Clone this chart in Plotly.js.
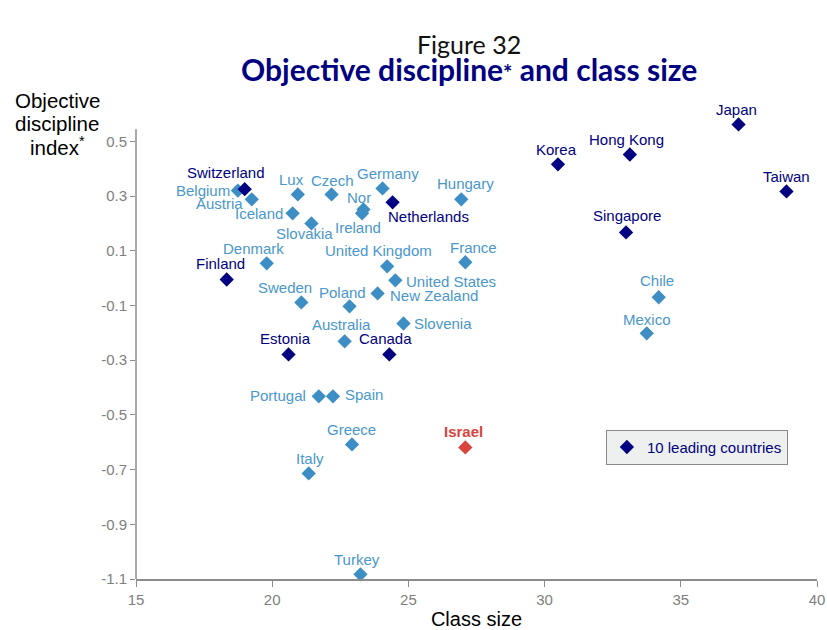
<!DOCTYPE html>
<html>
<head>
<meta charset="utf-8">
<script src="https://cdn.plot.ly/plotly-3.0.1.min.js"></script>
<style>html,body{margin:0;padding:0;background:#fff;}#chart{width:827px;height:630px;}</style>
</head>
<body>
<div id="chart"></div>
<script>
// ---- Data ----
const countries = ["Switzerland","Belgium","Austria","Lux","Czech","Germany","Netherlands","Nor","Ireland","Hungary","Iceland","Slovakia","Denmark","Finland","United Kingdom","United States","France","New Zealand","Sweden","Poland","Slovenia","Australia","Estonia","Canada","Portugal","Spain","Greece","Israel","Italy","Turkey","Korea","Hong Kong","Japan","Taiwan","Singapore","Chile","Mexico"];
const classSize = [18.99,18.74,19.25,20.94,22.18,24.05,24.42,23.35,23.30,26.94,20.75,21.44,19.80,18.33,24.22,24.52,27.09,23.87,21.07,22.84,24.82,22.66,20.60,24.30,21.71,22.23,22.93,27.09,21.34,23.24,30.49,33.13,37.12,38.88,32.99,34.19,33.75];
const discipline = [0.325,0.32,0.288,0.306,0.306,0.328,0.277,0.251,0.237,0.288,0.237,0.200,0.054,-0.005,0.043,-0.008,0.058,-0.056,-0.089,-0.103,-0.166,-0.231,-0.279,-0.279,-0.432,-0.432,-0.608,-0.619,-0.714,-1.083,0.416,0.452,0.562,0.317,0.167,-0.070,-0.202];
const group = ["lead","oecd","oecd","oecd","oecd","oecd","lead","oecd","oecd","oecd","oecd","oecd","oecd","lead","oecd","oecd","oecd","oecd","oecd","oecd","oecd","oecd","lead","lead","oecd","oecd","oecd","israel","oecd","oecd","lead","lead","lead","lead","lead","oecd","oecd"];
const legendLabel = "10 leading countries";
const yTickVals = [0.5,0.3,0.1,-0.1,-0.3,-0.5,-0.7,-0.9,-1.1];
const yTickText = ["0.5","0.3","0.1","-0.1","-0.3","-0.5","-0.7","-0.9","-1.1"];

// ---- Styling / label placement (layout only) ----
const colors = {lead:"#000080", oecd:"#3d8ec4", israel:"#d9443c"};
const textColors = {lead:"#000080", oecd:"#4a97cb", israel:"#d9443c"};
const axisColor = "#8c8c8c";
const lblFont = "Liberation Sans, Arial, sans-serif";
// [xanchor, xshift, yshift]
const place = {
  "Switzerland":["center",-19,17], "Belgium":["right",-6,0], "Austria":["right",-7,-4],
  "Lux":["center",-6,15], "Czech":["center",1,14], "Germany":["center",5,15],
  "Netherlands":["left",-7,-14], "Nor":["center",-4,12], "Ireland":["center",-4,-14],
  "Hungary":["center",4,16], "Iceland":["right",-8,0], "Slovakia":["center",-7,-10],
  "Denmark":["center",-13,15], "Finland":["center",-6,16], "United Kingdom":["center",-9,16],
  "United States":["left",9,-1], "France":["center",8,15], "New Zealand":["left",10,-2],
  "Sweden":["center",-16,15], "Poland":["center",-7,14], "Slovenia":["left",8,0],
  "Australia":["center",-3,17], "Estonia":["center",-3,16], "Canada":["center",-4,16],
  "Portugal":["right",-11,1], "Spain":["left",10,2], "Greece":["center",-1,15],
  "Israel":["center",-2,16], "Italy":["center",1,15], "Turkey":["center",-3,15],
  "Korea":["center",-1,15], "Hong Kong":["center",-3,15], "Japan":["center",-2,15],
  "Taiwan":["center",0,15], "Singapore":["center",1,17], "Chile":["center",-2,17],
  "Mexico":["center",0,14]
};

function pick(g){
  const xs=[],ys=[],ns=[];
  countries.forEach((c,i)=>{ if(group[i]===g){xs.push(classSize[i]);ys.push(discipline[i]);ns.push(c);} });
  return {xs,ys,ns};
}
const traces = [];
[["oecd",false,""],["israel",false,""],["lead",true,legendLabel]].forEach(([g,sl,name])=>{
  const d = pick(g);
  traces.push({
    type:"scatter", mode:"markers", x:d.xs, y:d.ys, text:d.ns, name:name||g,
    showlegend:sl, cliponaxis:false,
    marker:{symbol:"diamond", size:11, color:colors[g], line:{width:0}},
    hoverinfo:"text"
  });
});

const annotations = countries.map((c,i)=>{
  const p = place[c];
  return {
    x:classSize[i], y:discipline[i], xref:"x", yref:"y", text:c, showarrow:false,
    xanchor:p[0], yanchor:"middle", xshift:p[1], yshift:p[2],
    font:{family:lblFont, size:15, color:textColors[group[i]], weight: group[i]==="israel"?"bold":"normal"}
  };
});
// titles
annotations.push({xref:"paper",yref:"paper",x:0.4895,y:1,yshift:70,xanchor:"center",yanchor:"middle",showarrow:false,
  text:"Figure 32", font:{family:"Lato, 'Open Sans', sans-serif", size:25, color:"#111"}});
annotations.push({xref:"paper",yref:"paper",x:0.4895,y:1,yshift:45,xanchor:"center",yanchor:"middle",showarrow:false,
  text:"<b>Objective discipline<span style='font-size:22px'>*</span> and class size</b>", font:{family:"Lato, 'Open Sans', sans-serif", size:30, color:"#000080"}});
// y title lines
const yt = ["Objective","discipline","index<sup>*</sup>"];
const ytOff = [14,-9,-32];
yt.forEach((t,k)=>{
  annotations.push({xref:"paper",yref:"paper",x:0,xshift:-79,y:1,yshift:ytOff[k],xanchor:"center",yanchor:"middle",showarrow:false,
    text:t, font:{family:lblFont, size:20.5, color:"#000"}});
});

const layout = {
  width:827, height:630,
  margin:{l:136, r:10, t:114, b:51},
  paper_bgcolor:"#fff", plot_bgcolor:"#fff",
  showlegend:true,
  legend:{x:0.69, y:0.321, xanchor:"left", yanchor:"top", bgcolor:"#eef0f0", bordercolor:"#8a8a8a", borderwidth:1,
    font:{family:lblFont, size:15, color:"#000080"}},
  xaxis:{range:[15,40], dtick:5, tick0:15, showgrid:false, zeroline:false, showline:true, linecolor:axisColor, linewidth:1.5,
    ticks:"outside", ticklen:6, tickcolor:axisColor, tickfont:{family:lblFont, size:15, color:"#808080"},
    title:{text:"Class size", standoff:8, font:{family:lblFont, size:20, color:"#000"}}},
  yaxis:{range:[-1.1,0.6], tickvals:yTickVals, ticktext:yTickText,
    showgrid:false, zeroline:false, showline:false,
    ticks:"outside", ticklen:5, tickcolor:axisColor, tickfont:{family:lblFont, size:15, color:"#808080"}},
  shapes:[{type:"line", xref:"paper", yref:"y", x0:0, x1:0, y0:-1.1, y1:0.544, line:{color:axisColor, width:1.5}}],
  annotations:annotations
};
Plotly.newPlot("chart", traces, layout, {displayModeBar:false, staticPlot:true});
</script>
</body>
</html>
